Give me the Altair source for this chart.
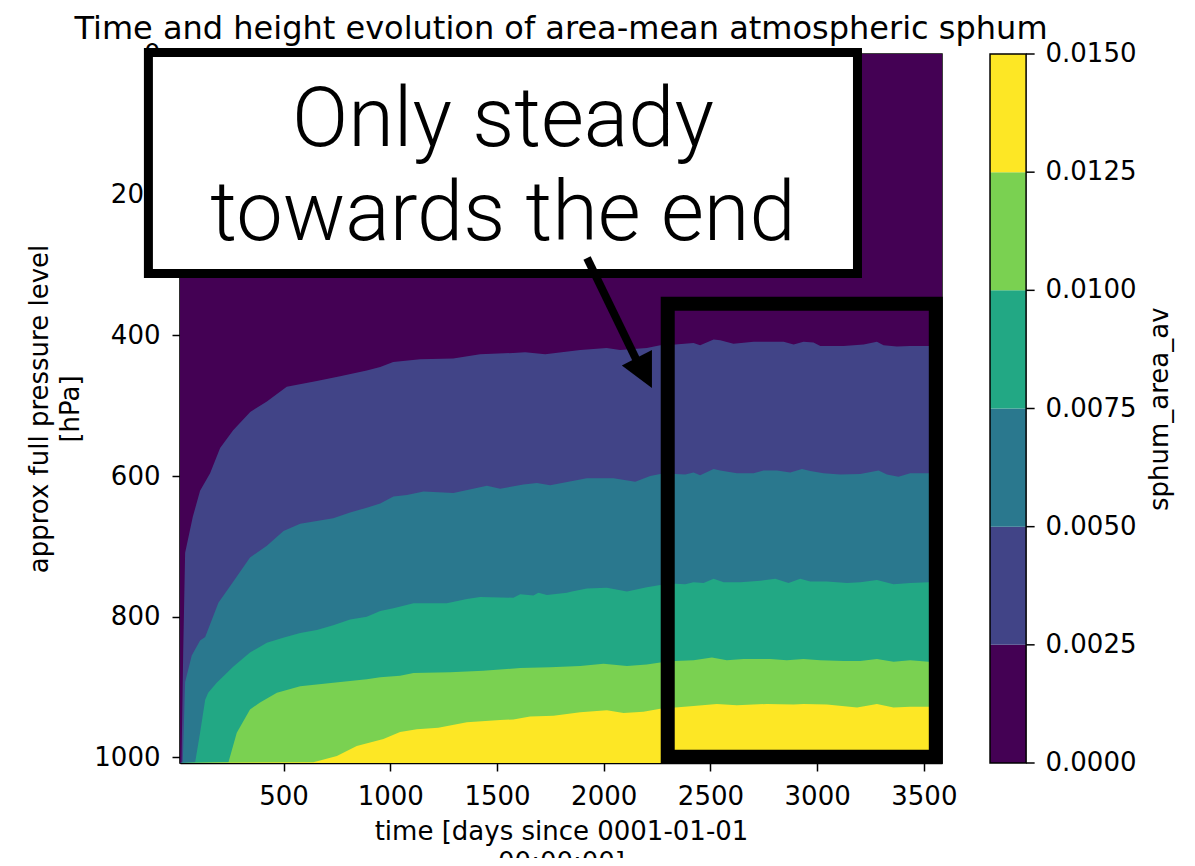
import altair as alt
import pandas as pd

# ---------------- texts ----------------
TITLE = "Time and height evolution of area-mean atmospheric sphum"
X_TITLE = ["time [days since 0001-01-01", "00:00:00]"]
Y_TITLE = ["approx full pressure level", "[hPa]"]
CB_TITLE = "sphum_area_av"
NOTE_LINES = ["Only steady", "towards the end"]

# ---------------- axes ----------------
T_DOMAIN = [15, 3585]
P_DOMAIN = [0, 1008]
X_TICKS = [500, 1000, 1500, 2000, 2500, 3000, 3500]
Y_TICKS = [0, 200, 400, 600, 800, 1000]

# ---------------- contour levels / colours ----------------
LEVELS = [0.0, 0.0025, 0.005, 0.0075, 0.01, 0.0125, 0.015]
COLORS = ["#440154", "#414487", "#2a788e", "#22a884", "#7ad151", "#fde725"]

# ---------------- level boundaries (pressure of each contour level vs time) ----------------
B1_T = [15, 22, 30, 39, 75, 109, 156, 203, 264, 344, 422, 515, 656, 765, 890, 953, 1014, 1140, 1295, 1421,
        1576, 1632, 1726, 1890, 2014, 2077, 2202, 2265, 2335, 2421, 2452, 2515, 2546, 2608, 2702, 2843, 2890,
        2936, 2983, 3015, 3124, 3218, 3280, 3311, 3374, 3436, 3522, 3585]
B1_P = [1008, 1008, 850, 709, 658, 621, 596, 560, 535, 509, 494, 473, 465, 458, 450, 445, 438, 434, 433, 427,
        425, 424, 427, 421, 418, 421, 418, 414, 413, 411, 414, 406, 407, 412, 409, 409, 413,
        409, 410, 415, 415, 413, 409, 414, 416, 415, 415, 415]

B2_T = [15, 28, 39, 70, 109, 133, 195, 265, 343, 422, 500, 578, 733, 812, 890, 953, 1015, 1078, 1156, 1296,
        1453, 1515, 1624, 1687, 1749, 1921, 2046, 2148, 2218, 2265, 2335, 2382, 2421, 2452, 2515, 2546, 2624,
        2702, 2749, 2812, 2874, 2929, 2968, 3030, 3108, 3202, 3288, 3327, 3381, 3436, 3522, 3585]
B2_P = [1008, 1007, 893, 855, 834, 829, 780, 750, 716, 699, 678, 668, 660, 652, 645, 639, 629, 627, 622, 624,
        614, 618, 612, 610, 613, 603, 603, 608, 600, 597, 597, 598, 595, 599, 590, 592, 596,
        596, 592, 592, 595, 590, 593, 596, 598, 597, 592, 598, 601, 596, 596, 596]

B3_T = [15, 86, 109, 133, 147, 187, 264, 343, 422, 498, 578, 656, 733, 812, 890, 953, 1015, 1109, 1265, 1359,
        1421, 1577, 1609, 1671, 1694, 1734, 1828, 1851, 1921, 2015, 2109, 2202, 2265, 2335, 2382, 2421, 2468,
        2515, 2562, 2640, 2733, 2804, 2866, 2921, 2968, 3046, 3140, 3202, 3280, 3358, 3436, 3522, 3585]
B3_P = [1008, 1007, 965, 918, 908, 894, 871, 851, 837, 830, 823, 819, 812, 804, 800, 792, 788, 781, 781, 775,
        772, 773, 768, 770, 766, 769, 766, 764, 760, 759, 764, 758, 755, 753, 754, 751, 752,
        746, 751, 751, 749, 746, 752, 746, 750, 750, 752, 751, 748, 754, 752, 751, 751]

B4_T = [15, 242, 281, 343, 390, 469, 578, 733, 890, 953, 1046, 1109, 1281, 1435, 1609, 1749, 1890, 1999, 2109,
        2202, 2265, 2335, 2421, 2507, 2577, 2655, 2780, 2858, 2936, 3015, 3124, 3202, 3280, 3358, 3436, 3522, 3585]
B4_P = [1008, 1007, 965, 932, 922, 908, 899, 894, 889, 886, 884, 880, 879, 877, 873, 872, 870, 867, 870,
        868, 865, 863, 862, 858, 862, 860, 860, 862, 860, 862, 863, 863, 860, 864, 862, 864, 864]

B5_T = [15, 640, 750, 843, 968, 1046, 1125, 1225, 1359, 1515, 1577, 1655, 1765, 1890, 2015, 2093, 2186, 2265,
        2335, 2421, 2530, 2624, 2765, 2890, 2936, 3046, 3187, 3280, 3358, 3436, 3522, 3585]
B5_P = [1008, 1007, 998, 984, 974, 964, 960, 958, 950, 947, 946, 942, 941, 936, 933, 937, 935, 931,
        929, 927, 924, 926, 924, 925, 924, 925, 929, 924, 929, 928, 928, 928]

BOUNDS = [(B1_T, B1_P), (B2_T, B2_P), (B3_T, B3_P), (B4_T, B4_P), (B5_T, B5_P)]

# ---------------- annotation / colourbar geometry (data coordinates) ----------------
HILITE_T = [2300, 3556]
HILITE_P = [355, 999]
BOX_T = [-133, 3189]
BOX_P = [-2, 312]
NOTE_T = [1528, 1528]
NOTE_P = [131, 265]
ARROW_T = [1922, 2165]
ARROW_P = [290, 442]
HEAD_T = [2085, 2226]
HEAD_P_TOP = [443, 421]
HEAD_P_BOT = [443, 475]
CB_T = [3810, 3979]          # colourbar left / right edge
CB_TICK_T = [3979, 4019]     # colourbar tick marks
CB_LABEL_T = 4070            # colourbar tick labels (left edge)
CB_TITLE_T = 4606            # colourbar title centre
CB_TITLE_P = 505

FONT = "DejaVu Sans"
PMAX = P_DOMAIN[1]
LMAX = LEVELS[-1]

xscale = alt.Scale(domain=T_DOMAIN, nice=False, zero=False)
yscale = alt.Scale(domain=P_DOMAIN, reverse=True, nice=False, zero=False)

common_axis = dict(grid=False, format="d", labelFont=FONT, labelFontSize=26, labelColor="black",
                   tickColor="black", tickSize=8, tickWidth=1.5, domainColor="black", domainWidth=1.5,
                   titleFont=FONT, titleFontSize=26, titleFontWeight="normal", titleColor="black",
                   titleLineHeight=31, labelFlush=False, labelOverlap=False)

x_axis = alt.Axis(values=X_TICKS, title=X_TITLE, labelPadding=12, titlePadding=9, **common_axis)
y_axis = alt.Axis(values=Y_TICKS, title=Y_TITLE, orient="left", labelPadding=12, titlePadding=10, **common_axis)


def X(field):
    return alt.X(field, type="quantitative", scale=xscale, axis=x_axis)


def Y(field):
    return alt.Y(field, type="quantitative", scale=yscale, axis=y_axis, stack=None)


# background (lowest level band)
bg_df = pd.DataFrame({"t0": [T_DOMAIN[0]], "t1": [T_DOMAIN[1]], "p0": [P_DOMAIN[0]], "p1": [P_DOMAIN[1]]})
bg = alt.Chart(bg_df).mark_rect(color=COLORS[0]).encode(x=X("t0"), x2="t1", y=Y("p0"), y2="p1")

bands = []
for k, (ts, ps) in enumerate(BOUNDS, start=1):
    df = pd.DataFrame({"t": ts, "p": ps, "base": [PMAX] * len(ts)})
    bands.append(
        alt.Chart(df).mark_area(color=COLORS[k], interpolate="linear").encode(x=X("t"), y=Y("p"), y2="base")
    )

hl_df = pd.DataFrame({"t0": [HILITE_T[0]], "t1": [HILITE_T[1]], "p0": [HILITE_P[0]], "p1": [HILITE_P[1]]})
hl = alt.Chart(hl_df).mark_rect(fillOpacity=0, stroke="black", strokeWidth=14, strokeJoin="miter").encode(
    x=X("t0"), x2="t1", y=Y("p0"), y2="p1")

box_df = pd.DataFrame({"t0": [BOX_T[0]], "t1": [BOX_T[1]], "p0": [BOX_P[0]], "p1": [BOX_P[1]]})
box = alt.Chart(box_df).mark_rect(fill="white", stroke="black", strokeWidth=9, strokeJoin="miter").encode(
    x=X("t0"), x2="t1", y=Y("p0"), y2="p1")

note_df = pd.DataFrame({"t": NOTE_T, "p": NOTE_P, "line": NOTE_LINES})
note = alt.Chart(note_df).mark_text(font="Roboto", fontSize=83, fontWeight=300, align="center",
                                    baseline="alphabetic", color="black").encode(
    x=X("t"), y=Y("p"), text="line:N")

arrow_df = pd.DataFrame({"t0": [ARROW_T[0]], "t1": [ARROW_T[1]], "p0": [ARROW_P[0]], "p1": [ARROW_P[1]]})
arrow = alt.Chart(arrow_df).mark_rule(color="black", strokeWidth=8).encode(
    x=X("t0"), x2="t1", y=Y("p0"), y2="p1")

head_df = pd.DataFrame({"t": HEAD_T, "ptop": HEAD_P_TOP, "pbot": HEAD_P_BOT})
head = alt.Chart(head_df).mark_area(color="black").encode(x=X("t"), y=Y("ptop"), y2="pbot")

# ---------------- colourbar (levels mapped onto the plot height) ----------------
cb_df = pd.DataFrame({"lo": LEVELS[:-1], "hi": LEVELS[1:], "c": COLORS,
                      "t0": [CB_T[0]] * 6, "t1": [CB_T[1]] * 6})
cb = alt.Chart(cb_df).transform_calculate(
    p_lo=f"{PMAX} * (1 - datum.lo / {LMAX})", p_hi=f"{PMAX} * (1 - datum.hi / {LMAX})"
).mark_rect().encode(x=X("t0"), x2="t1", y=Y("p_lo"), y2="p_hi", color=alt.Color("c:N", scale=None))

cbo_df = pd.DataFrame({"t0": [CB_T[0]], "t1": [CB_T[1]], "p0": [P_DOMAIN[0]], "p1": [P_DOMAIN[1]]})
cb_outline = alt.Chart(cbo_df).mark_rect(fillOpacity=0, stroke="black", strokeWidth=1.5).encode(
    x=X("t0"), x2="t1", y=Y("p0"), y2="p1")

tick_df = pd.DataFrame({"lev": LEVELS, "t0": [CB_TICK_T[0]] * 7, "t1": [CB_TICK_T[1]] * 7,
                        "tl": [CB_LABEL_T] * 7})
cb_ticks = alt.Chart(tick_df).transform_calculate(
    p=f"{PMAX} * (1 - datum.lev / {LMAX})"
).mark_rule(color="black", strokeWidth=1.5).encode(x=X("t0"), x2="t1", y=Y("p"))

cb_labels = alt.Chart(tick_df).transform_calculate(
    p=f"{PMAX} * (1 - datum.lev / {LMAX})", lab="format(datum.lev, '.4f')"
).mark_text(font=FONT, fontSize=26, align="left", baseline="middle", color="black").encode(
    x=X("tl"), y=Y("p"), text="lab:N")

cbt_df = pd.DataFrame({"t": [CB_TITLE_T], "p": [CB_TITLE_P], "txt": [CB_TITLE]})
cb_title = alt.Chart(cbt_df).mark_text(font=FONT, fontSize=26, angle=270, align="center",
                                       baseline="middle", color="black").encode(
    x=X("t"), y=Y("p"), text="txt:N")

chart = alt.layer(bg, *bands, hl, box, arrow, head, note, cb, cb_outline, cb_ticks, cb_labels, cb_title).properties(
    width=762,
    height=709,
    title=alt.TitleParams(TITLE, font=FONT, fontSize=32, fontWeight="normal", color="black",
                          anchor="middle", frame="group", offset=-5),
    autosize=alt.AutoSizeParams(type="none"),
    padding={"left": 172, "top": 46, "right": 240, "bottom": 95},
).configure_view(stroke="black", strokeWidth=1.5)

chart.save("out.html", embed_options={"renderer": "svg", "actions": False})
